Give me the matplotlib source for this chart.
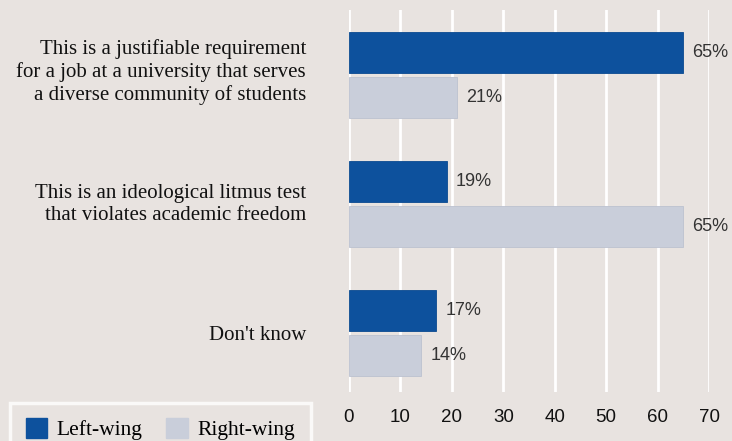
import matplotlib
matplotlib.use("Agg")
import matplotlib.pyplot as plt
from matplotlib.patches import Patch
from matplotlib.transforms import ScaledTranslation

categories = [
    "This is a justifiable requirement\nfor a job at a university that serves\na diverse community of students",
    "This is an ideological litmus test\nthat violates academic freedom",
    "Don't know",
]
left_wing = [65, 19, 17]
right_wing = [21, 65, 14]
series_names = ["Left-wing", "Right-wing"]
xticks = [0, 10, 20, 30, 40, 50, 60, 70]

bg = "#e8e3e0"
c_left = "#0d519d"
c_right = "#c9ceda"

fig = plt.figure(figsize=(7.32, 4.41), dpi=100, facecolor=bg)
W, H = 732, 441
ax = fig.add_axes([349 / W, 1 - 392 / H, (709 - 349) / W, (392 - 10) / H])
ax.set_facecolor(bg)

ys = list(range(len(categories)))
off = 0.174
h = 0.318
ax.barh([y - off for y in ys], left_wing, height=h, color=c_left,
        edgecolor="#0a4a90", linewidth=0.6, zorder=3)
ax.barh([y + off for y in ys], right_wing, height=h, color=c_right,
        edgecolor="#bcc2d0", linewidth=0.6, zorder=3)

for y, v in zip(ys, left_wing):
    ax.text(v + 1.8, y - off, f"{v}%", va="center", ha="left",
            fontsize=13, color="#333333", family="Liberation Sans", zorder=4)
for y, v in zip(ys, right_wing):
    ax.text(v + 1.8, y + off, f"{v}%", va="center", ha="left",
            fontsize=13, color="#333333", family="Liberation Sans", zorder=4)

ax.set_xlim(0, 70)
ax.set_ylim(2 + 0.457, -0.504)
ax.set_xticks(xticks)
ax.set_xticklabels([str(t) for t in xticks], fontsize=13.5,
                   family="Liberation Sans", color="#111111")
ax.tick_params(axis="x", length=0, pad=12)
ax.set_yticks(ys)
ax.set_yticklabels(categories, fontsize=15, family="Liberation Serif",
                   color="#111111", ha="right", linespacing=1.2)
ax.tick_params(axis="y", length=0, pad=31)
# nudge multi-line labels upward slightly
for lab in ax.get_yticklabels():
    n = lab.get_text().count("\n")
    if n:
        lab.set_transform(lab.get_transform() +
                          ScaledTranslation(0, (2.5 * n) / 72, fig.dpi_scale_trans))
ax.grid(axis="x", color="white", linewidth=2, zorder=0)
ax.set_axisbelow(True)
for s in ax.spines.values():
    s.set_visible(False)

handles = [Patch(facecolor=c_left, edgecolor=c_left),
           Patch(facecolor=c_right, edgecolor=c_right)]
leg = fig.legend(handles, series_names, loc="lower left",
                 bbox_to_anchor=(10 / W, -15 / H), ncol=2,
                 prop={"family": "Liberation Serif", "size": 15.5},
                 frameon=True, fancybox=False, handlelength=1.0,
                 handleheight=1.0, columnspacing=1.1, handletextpad=0.45,
                 borderpad=0.72, borderaxespad=0)
leg.get_frame().set_facecolor(bg)
leg.get_frame().set_edgecolor("white")
leg.get_frame().set_linewidth(2.5)

fig.savefig("out.png", dpi=100, facecolor=bg)
